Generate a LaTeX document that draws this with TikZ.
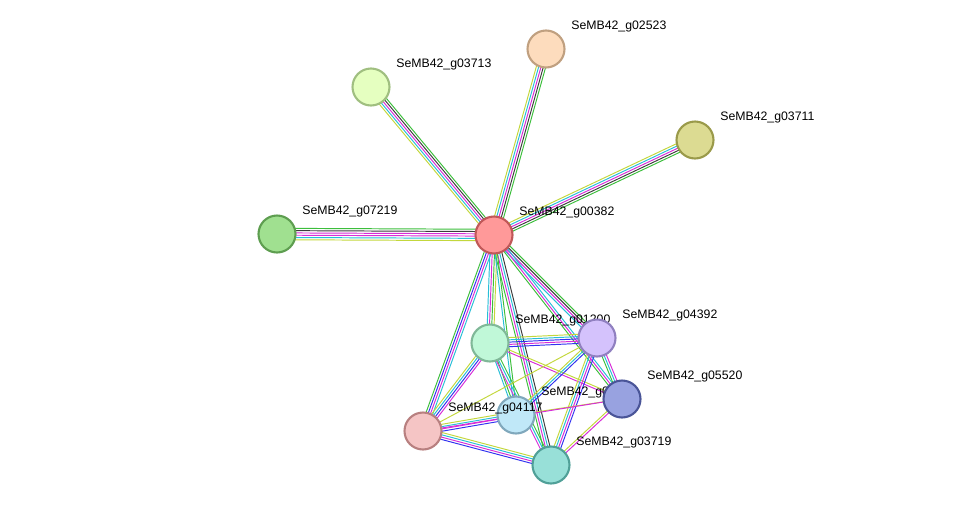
\documentclass[tikz,border=0pt]{standalone}
\usepackage{fontspec}
\setmainfont{Liberation Sans}
\usetikzlibrary{calc}
\definecolor{sgreen}{RGB}{60,190,60}
\definecolor{sblack}{RGB}{60,60,60}
\definecolor{smag}{RGB}{215,45,215}
\definecolor{scyan}{RGB}{40,190,215}
\definecolor{syel}{RGB}{195,215,60}
\definecolor{sblue}{RGB}{50,50,240}
\tikzset{
  prot/.style={circle, minimum size=0.74cm, line width=1.2pt, inner sep=0pt},
  lbl/.style={anchor=west, xshift=3pt, yshift=5pt, font=\fontsize{7}{8}\selectfont},
  edge/.style={line width=0.55pt}
}
\pgfdeclarelayer{background}
\pgfsetlayers{background,main}
\newcommand\lnk[3]{%
  \foreach \c [count=\k] in {#3} {\xdef\nn{\k}}%
  \foreach \c [count=\k] in {#3} {%
    \pgfmathsetmacro\off{(\k-(\nn+1)/2)*1.3}%
    \draw[\c, edge] ($(#1)!\off pt!90:(#2)$) -- ($(#2)!\off pt!-90:(#1)$);}}

\begin{document}
\begin{tikzpicture}[x=0.02cm, y=-0.02cm]
\path[use as bounding box] (0,0) rectangle (976,511);
% proteins
\node (g00382) [prot, fill={rgb,255:red,255;green,153;blue,153}, draw={rgb,255:red,192;green,88;blue,88}, label={[lbl]north east:SeMB42\_g00382}] at (494,235) {};
\node (g02523) [prot, fill={rgb,255:red,253;green,220;blue,189}, draw={rgb,255:red,192;green,160;blue,128}, label={[lbl]north east:SeMB42\_g02523}] at (546,49) {};
\node (g03713) [prot, fill={rgb,255:red,229;green,255;blue,192}, draw={rgb,255:red,160;green,191;blue,128}, label={[lbl]north east:SeMB42\_g03713}] at (371,87) {};
\node (g03711) [prot, fill={rgb,255:red,220;green,219;blue,146}, draw={rgb,255:red,154;green,154;blue,74}, label={[lbl]north east:SeMB42\_g03711}] at (695,140) {};
\node (g07219) [prot, fill={rgb,255:red,160;green,224;blue,144}, draw={rgb,255:red,94;green,158;blue,80}, label={[lbl]north east:SeMB42\_g07219}] at (277,234) {};
\node (g01200) [prot, fill={rgb,255:red,192;green,248;blue,216}, draw={rgb,255:red,128;green,184;blue,152}, label={[lbl]north east:SeMB42\_g01200}] at (490,343) {};
\node (g03712) [prot, fill={rgb,255:red,192;green,232;blue,248}, draw={rgb,255:red,128;green,168;blue,188}, label={[lbl]north east:SeMB42\_g03712}] at (516,415) {};
\node (g04117) [prot, fill={rgb,255:red,245;green,197;blue,197}, draw={rgb,255:red,184;green,128;blue,128}, label={[lbl]north east:SeMB42\_g04117}] at (423,431) {};
\node (g03719) [prot, fill={rgb,255:red,152;green,224;blue,216}, draw={rgb,255:red,80;green,160;blue,152}, label={[lbl]north east:SeMB42\_g03719}] at (551,465) {};
\node (g04392) [prot, fill={rgb,255:red,212;green,194;blue,252}, draw={rgb,255:red,144;green,128;blue,192}, label={[lbl]north east:SeMB42\_g04392}] at (597,338) {};
\node (g05520) [prot, fill={rgb,255:red,152;green,162;blue,224}, draw={rgb,255:red,74;green,85;blue,152}, label={[lbl]north east:SeMB42\_g05520}] at (622,399) {};
% interactions
\begin{pgfonlayer}{background}
\lnk{g00382}{g07219}{sgreen,sblack,smag,smag,scyan,syel}
\lnk{g00382}{g03713}{sgreen,sblack,smag,scyan,syel}
\lnk{g00382}{g02523}{sgreen,sblack,smag,scyan,syel}
\lnk{g00382}{g03711}{sgreen,sblack,smag,scyan,syel}
\lnk{g00382}{g01200}{scyan,smag,sgreen,syel}
\lnk{g00382}{g04392}{scyan,smag,sblack,sgreen}
\lnk{g00382}{g05520}{sgreen,smag,scyan}
\lnk{g00382}{g04117}{sgreen,sblue,smag,scyan}
\lnk{g00382}{g03719}{sgreen,smag,scyan,sblack}
\lnk{g00382}{g03712}{scyan,sgreen}
\lnk{g01200}{g04392}{sblue,smag,sblue,scyan,syel}
\lnk{g01200}{g04117}{syel,scyan,sblue,smag}
\lnk{g01200}{g05520}{smag,syel}
\lnk{g01200}{g03712}{scyan,sgreen}
\lnk{g01200}{g03719}{smag,scyan,sgreen}
\lnk{g04392}{g05520}{sgreen,scyan,smag}
\lnk{g04392}{g03719}{syel,scyan,smag,sblue}
\lnk{g04392}{g03712}{syel,scyan,sblue}
\lnk{g04392}{g04117}{syel}
\lnk{g05520}{g03719}{syel,smag}
\lnk{g05520}{g03712}{syel}
\lnk{g05520}{g04117}{smag}
\lnk{g04117}{g03712}{sblue,smag,scyan,syel}
\lnk{g04117}{g03719}{sblue,smag,scyan,syel}
\end{pgfonlayer}
\end{tikzpicture}
\end{document}
